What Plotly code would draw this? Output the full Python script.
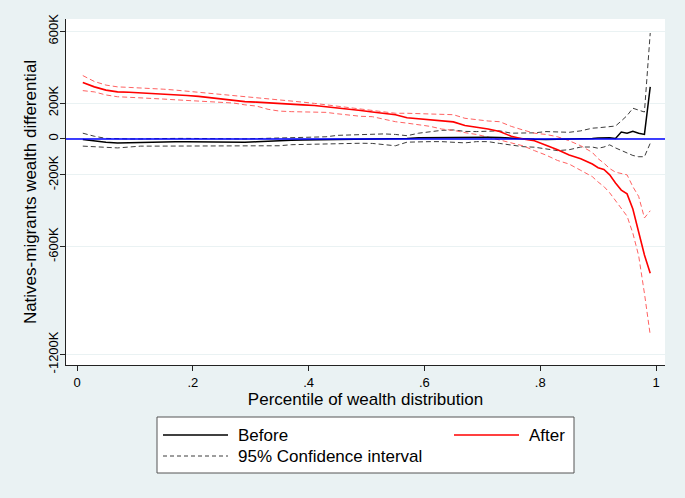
import plotly.graph_objects as go

# ---------------- data (thousands) ----------------
pct = [0.01,0.03,0.05,0.07,0.09,0.11,0.13,0.15,0.17,0.19,0.21,0.23,0.25,0.27,0.29,
       0.31,0.33,0.35,0.37,0.39,0.41,0.43,0.45,0.47,0.49,0.51,0.53,0.55,0.57,0.59,
       0.61,0.63,0.65,0.67,0.69,0.71,0.73,0.75,0.77,0.79,0.81,0.83,0.85,0.87,0.89,
       0.90,0.91,0.92,0.93,0.94,0.95,0.96,0.97,0.98,0.99]

before = [-3,-12,-18,-22,-20,-18,-17,-15,-15,-15,-16,-18,-20,-19,-18,
          -16,-12,-8,-7,-6,-5,-5,-3,-2,-2,-1,-1,0,3,7,
          8,9,10,10,9,9,8,4,-1,-2,-3,-2,-2,0,3,
          5,6,6,2,38,32,42,32,25,290]
before_hi = [32,15,3,0,0,0,2,2,3,3,2,2,0,0,0,
             2,4,6,8,9,9,12,20,22,22,24,28,25,18,32,
             40,48,50,42,41,45,45,32,32,34,41,40,37,45,60,
             62,66,70,72,100,130,171,160,150,590]
before_lo = [-40,-43,-46,-50,-45,-40,-40,-40,-40,-40,-40,-40,-42,-42,-40,
             -40,-39,-38,-32,-30,-30,-28,-26,-24,-24,-25,-30,-38,-18,-15,
             -15,-15,-18,-22,-15,-15,-25,-35,-43,-46,-55,-65,-60,-45,-45,
             -52,-45,-33,-50,-65,-80,-92,-99,-99,-24]

after = [314,290,272,262,260,257,255,250,246,242,237,230,223,214,208,
         205,202,200,197,190,186,180,174,165,158,150,143,135,118,113,
         108,100,95,75,66,55,41,15,0,-10,-35,-60,-90,-110,-140,
         -160,-170,-200,-245,-285,-306,-390,-518,-646,-748]
after_hi = [353,320,300,290,287,285,282,277,272,266,260,255,248,242,235,
            230,227,220,212,205,198,190,180,172,165,160,150,143,143,142,
            141,140,135,115,106,100,96,70,50,32,25,12,-10,-38,-75,
            -110,-135,-165,-185,-193,-200,-266,-320,-440,-400]
after_lo = [269,262,245,235,232,230,226,222,218,214,210,205,200,200,190,
            183,165,155,152,152,150,148,140,132,126,124,110,96,88,78,
            70,55,48,35,25,10,-5,-20,-38,-65,-90,-120,-140,-175,-210,
            -240,-265,-300,-345,-385,-430,-525,-650,-860,-1092]

y_tickvals = [600, 200, 0, -200, -600, -1200]
y_ticktext = ["600K", "200K", "0", "-200K", "-600K", "-1200K"]
x_tickvals = [0, 0.2, 0.4, 0.6, 0.8, 1]
x_ticktext = ["0", ".2", ".4", ".6", ".8", "1"]

# ---------------- styling ----------------
W, H = 685, 498
ML, MR, MT, MB = 66, 20, 19, 133
BG = "#eaf2f3"
FONT = "Arial, Liberation Sans, sans-serif"
RED = "#ff0000"
RED_CI = "#ff6262"
BLACK = "#000000"
GRAY_CI = "#3c3c3c"

fig = go.Figure()

def add(y, color, width, dash, name):
    fig.add_trace(go.Scatter(x=pct, y=y, mode="lines", name=name, showlegend=False,
                             line=dict(color=color, width=width, dash=dash)))

add(before_hi, GRAY_CI, 1, "5px,3px", "Before upper CI")
add(before_lo, GRAY_CI, 1, "5px,3px", "Before lower CI")
add(after_hi, RED_CI, 1, "5px,3px", "After upper CI")
add(after_lo, RED_CI, 1, "5px,3px", "After lower CI")
add(before, BLACK, 1.5, "solid", "Before")
add(after, RED, 1.6, "solid", "After")

# zero reference line across the plot area
fig.add_shape(type="line", xref="paper", yref="y", x0=0, x1=1, y0=0, y1=0,
              line=dict(color="#0000ff", width=1.6), layer="above")

# ---------------- manual legend (Stata style) ----------------
pw = W - ML - MR
ph = H - MT - MB
def px(x):
    return (x - ML) / pw
def py(y):
    return (H - MB - y) / ph

fig.add_shape(type="rect", xref="paper", yref="paper",
              x0=px(157), x1=px(574), y0=py(473), y1=py(417),
              fillcolor="white", line=dict(color="#555555", width=1), layer="above")
legend_items = [
    (163, 228, 435, BLACK, "solid", 1.4, "Before"),
    (454, 519, 435, RED, "solid", 1.4, "After"),
    (163, 228, 456, GRAY_CI, "4px,3px", 1, "95% Confidence interval"),
]
for x0, x1, yy, col, dash, lw, label in legend_items:
    fig.add_shape(type="line", xref="paper", yref="paper",
                  x0=px(x0), x1=px(x1), y0=py(yy), y1=py(yy),
                  line=dict(color=col, width=lw, dash=dash), layer="above")
    fig.add_annotation(xref="paper", yref="paper", x=px(x1 + 8), y=py(yy),
                       text=label, showarrow=False, xanchor="left", yanchor="middle",
                       font=dict(family=FONT, size=17, color="black"))

fig.update_layout(
    width=W, height=H,
    margin=dict(l=ML, r=MR, t=MT, b=MB, autoexpand=False),
    paper_bgcolor=BG, plot_bgcolor="white",
    font=dict(family=FONT, color="black"),
    showlegend=False,
)
fig.update_xaxes(
    range=[-0.019, 1.0155], tickvals=x_tickvals, ticktext=x_ticktext,
    showgrid=False, zeroline=False, showline=True, linecolor="#222222", linewidth=1,
    ticks="outside", ticklen=5, tickcolor="#222222", automargin=False,
    tickfont=dict(size=13, family=FONT, color="black"),
    title=dict(text="Percentile of wealth distribution", font=dict(size=17, family=FONT), standoff=2),
)
fig.update_yaxes(
    range=[-1259, 668], tickvals=y_tickvals, ticktext=y_ticktext, tickangle=-90,
    showgrid=True, gridcolor=BG, gridwidth=1, zeroline=False,
    showline=True, linecolor="#222222", linewidth=1, automargin=False,
    ticks="outside", ticklen=5, tickcolor="#222222", ticklabelstandoff=-3,
    tickfont=dict(size=13, family=FONT, color="black"),
    title=dict(text="Natives-migrants wealth differential", font=dict(size=17, family=FONT), standoff=4),
)

fig.write_html("out.html", config={"displayModeBar": False},
               post_script="document.body.style.margin='0';document.body.style.overflow='hidden';")
